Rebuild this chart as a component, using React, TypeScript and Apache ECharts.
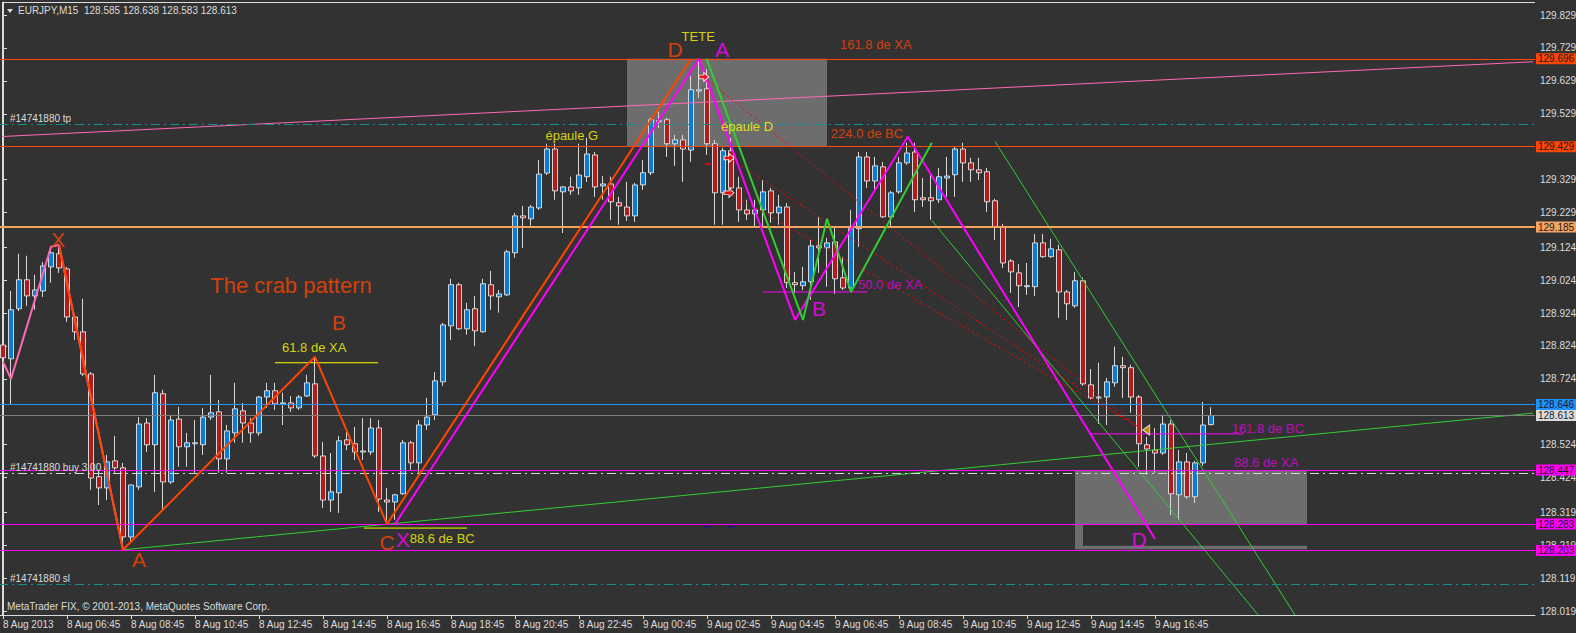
import React, { useEffect, useRef } from "react";
import * as echarts from "echarts";

const FONT = '"Liberation Sans", Arial, sans-serif';

// x axis tick labels (one every 8 bars, starting at bar 0)
const xTickLabels = [
  "8 Aug 2013", "8 Aug 06:45", "8 Aug 08:45", "8 Aug 10:45", "8 Aug 12:45", "8 Aug 14:45",
  "8 Aug 16:45", "8 Aug 18:45", "8 Aug 20:45", "8 Aug 22:45", "9 Aug 00:45", "9 Aug 02:45",
  "9 Aug 04:45", "9 Aug 06:45", "9 Aug 08:45", "9 Aug 10:45", "9 Aug 12:45", "9 Aug 14:45",
  "9 Aug 16:45",
];

// price scale tick labels
const yTickValues = [
  129.829, 129.729, 129.629, 129.529, 129.429, 129.329, 129.229, 129.124, 129.024, 128.924,
  128.824, 128.724, 128.524, 128.424, 128.319, 128.219, 128.119, 128.019,
];

// EURJPY M15 candles from 8 Aug 04:45 — [open, close, low, high]
const candles = [
  [128.827, 128.788, 128.773, 128.888], [128.785, 128.934, 128.645, 128.991], [128.937, 129.025, 128.930, 129.104],
  [129.025, 128.976, 128.946, 129.098], [128.976, 128.994, 128.934, 129.040], [128.991, 129.067, 128.973, 129.079],
  [129.064, 129.107, 129.016, 129.125], [129.104, 129.061, 129.046, 129.131], [129.058, 128.912, 128.897, 129.064],
  [128.912, 128.867, 128.842, 128.921], [128.867, 128.739, 128.733, 128.967], [128.739, 128.423, 128.387, 128.745],
  [128.427, 128.393, 128.341, 128.448], [128.393, 128.472, 128.356, 128.493], [128.475, 128.454, 128.439, 128.551],
  [128.454, 128.244, 128.208, 128.469], [128.244, 128.402, 128.232, 128.402], [128.396, 128.587, 128.387, 128.608],
  [128.590, 128.524, 128.502, 128.605], [128.524, 128.682, 128.381, 128.736], [128.679, 128.411, 128.326, 128.691],
  [128.411, 128.599, 128.405, 128.615], [128.602, 128.518, 128.457, 128.639], [128.518, 128.530, 128.457, 128.560],
  [128.527, 128.530, 128.439, 128.599], [128.524, 128.608, 128.493, 128.636], [128.608, 128.621, 128.599, 128.736],
  [128.624, 128.481, 128.439, 128.660], [128.481, 128.566, 128.439, 128.584], [128.560, 128.633, 128.530, 128.712],
  [128.627, 128.590, 128.530, 128.651], [128.590, 128.560, 128.530, 128.605], [128.560, 128.669, 128.551, 128.672],
  [128.669, 128.688, 128.636, 128.712], [128.688, 128.648, 128.630, 128.712], [128.648, 128.651, 128.584, 128.682],
  [128.651, 128.636, 128.624, 128.672], [128.636, 128.669, 128.630, 128.675], [128.672, 128.712, 128.669, 128.736],
  [128.709, 128.490, 128.484, 128.791], [128.490, 128.356, 128.332, 128.533], [128.356, 128.381, 128.320, 128.499],
  [128.378, 128.536, 128.317, 128.551], [128.539, 128.524, 128.508, 128.563], [128.527, 128.502, 128.478, 128.578],
  [128.502, 128.505, 128.478, 128.605], [128.502, 128.575, 128.493, 128.605], [128.575, 128.359, 128.320, 128.599],
  [128.356, 128.350, 128.287, 128.393], [128.350, 128.372, 128.296, 128.375], [128.375, 128.530, 128.372, 128.539],
  [128.530, 128.469, 128.448, 128.536], [128.469, 128.584, 128.439, 128.599], [128.584, 128.608, 128.569, 128.666],
  [128.615, 128.718, 128.599, 128.745], [128.715, 128.888, 128.703, 128.894], [128.885, 129.010, 128.842, 129.028],
  [129.010, 128.876, 128.873, 129.016], [128.876, 128.934, 128.858, 128.955], [128.937, 128.870, 128.824, 128.976],
  [128.867, 129.013, 128.864, 129.028], [129.010, 128.976, 128.934, 129.052], [128.973, 128.982, 128.925, 128.994],
  [128.979, 129.110, 128.976, 129.116], [129.107, 129.219, 129.092, 129.228], [129.219, 129.213, 129.122, 129.249],
  [129.210, 129.246, 129.189, 129.252], [129.243, 129.346, 129.237, 129.389], [129.349, 129.422, 129.343, 129.438],
  [129.422, 129.295, 129.268, 129.438], [129.292, 129.307, 129.167, 129.310], [129.307, 129.295, 129.283, 129.338],
  [129.304, 129.343, 129.283, 129.438], [129.338, 129.407, 129.322, 129.456], [129.404, 129.307, 129.277, 129.413],
  [129.310, 129.316, 129.268, 129.340], [129.316, 129.262, 129.207, 129.338], [129.259, 129.249, 129.192, 129.277],
  [129.246, 129.219, 129.204, 129.322], [129.219, 129.313, 129.201, 129.319], [129.313, 129.350, 129.298, 129.389],
  [129.350, 129.511, 129.343, 129.517], [129.508, 129.505, 129.486, 129.535], [129.511, 129.438, 129.398, 129.517],
  [129.438, 129.450, 129.371, 129.465], [129.450, 129.422, 129.322, 129.465], [129.419, 129.602, 129.383, 129.644],
  [129.598, 129.602, 129.577, 129.696], [129.605, 129.438, 129.404, 129.665], [129.438, 129.289, 129.192, 129.450],
  [129.289, 129.417, 129.192, 129.426], [129.417, 129.304, 129.283, 129.456], [129.304, 129.237, 129.201, 129.338],
  [129.237, 129.225, 129.207, 129.268], [129.225, 129.237, 129.183, 129.268], [129.237, 129.292, 129.186, 129.328],
  [129.295, 129.228, 129.198, 129.304], [129.228, 129.246, 129.192, 129.283], [129.246, 129.016, 129.000, 129.258],
  [129.016, 129.010, 128.985, 129.049], [129.007, 129.019, 128.994, 129.064], [129.019, 129.128, 128.964, 129.146],
  [129.128, 129.122, 129.046, 129.216], [129.122, 129.137, 129.004, 129.152], [129.140, 129.028, 128.982, 129.186],
  [129.031, 129.000, 128.994, 129.095], [129.000, 129.180, 128.988, 129.237], [129.180, 129.398, 129.125, 129.413],
  [129.398, 129.325, 129.304, 129.413], [129.325, 129.371, 129.298, 129.398], [129.368, 129.216, 129.213, 129.383],
  [129.216, 129.289, 129.186, 129.295], [129.292, 129.380, 129.286, 129.398], [129.380, 129.410, 129.374, 129.441],
  [129.413, 129.268, 129.231, 129.441], [129.274, 129.268, 129.246, 129.334], [129.274, 129.265, 129.207, 129.344],
  [129.268, 129.338, 129.258, 129.365], [129.334, 129.340, 129.277, 129.398], [129.344, 129.422, 129.277, 129.429],
  [129.422, 129.380, 129.322, 129.441], [129.380, 129.359, 129.322, 129.395], [129.359, 129.350, 129.328, 129.395],
  [129.353, 129.262, 129.231, 129.365], [129.265, 129.186, 129.146, 129.271], [129.186, 129.076, 129.061, 129.195],
  [129.082, 129.049, 128.985, 129.088], [129.046, 129.007, 128.942, 129.073], [129.004, 129.007, 128.979, 129.076],
  [129.004, 129.137, 128.976, 129.164], [129.137, 129.095, 129.092, 129.164], [129.095, 129.119, 129.092, 129.149],
  [129.116, 128.988, 128.909, 129.131], [128.988, 128.952, 128.903, 128.994], [128.946, 129.022, 128.940, 129.049],
  [129.022, 128.709, 128.703, 129.031], [128.706, 128.666, 128.660, 128.754], [128.666, 128.669, 128.587, 128.773],
  [128.669, 128.715, 128.584, 128.727], [128.712, 128.764, 128.700, 128.822], [128.764, 128.758, 128.666, 128.791],
  [128.758, 128.669, 128.621, 128.767], [128.669, 128.527, 128.457, 128.675], [128.524, 128.511, 128.433, 128.548],
  [128.508, 128.499, 128.439, 128.575], [128.499, 128.587, 128.493, 128.615], [128.587, 128.375, 128.311, 128.599],
  [128.372, 128.472, 128.296, 128.508], [128.472, 128.366, 128.360, 128.499], [128.366, 128.469, 128.347, 128.475],
  [128.469, 128.584, 128.460, 128.654], [128.585, 128.613, 128.583, 128.638],
];

const slotCount = 192; // bars + empty space on the right

// horizontal price levels
const orangeLevels = [129.696, 129.429];
const sandLevels = [129.185];
const askLevel = 128.646;
const bidLevel = 128.613;
const magentaLevels = [128.447, 128.283, 128.203];
const orderLevels = [
  { text: "#14741880 tp", value: 129.497, kind: "teal" },
  { text: "#14741880 buy 3.00", value: 128.437, kind: "white" },
  { text: "#14741880 sl", value: 128.1, kind: "teal" },
];

// drawn pattern lines: [bar index, price]
const pinkZigzag = [[0, 128.776], [1, 128.724], [6, 129.125], [7, 129.131], [15, 128.205]];
const crabOrange = [[7, 129.131], [15, 128.205], [39, 128.791], [48, 128.283], [86, 129.696]];
const crabMagenta = [[49, 128.283], [87, 129.696], [99, 128.903], [113.1, 129.459], [144, 128.238]];
const greenZigzag = [[87.96, 129.696], [100, 128.903], [103, 129.21], [106, 128.988], [116.1, 129.441]];
const greenTrend = [[15, 128.205], [191.25, 128.62]];
const pinkTrend = [[-0.1, 129.46], [191.25, 129.687]];
const greenChannels = [
  [[124, 129.445], [161.5, 128.007]],
  [[116.1, 129.205], [156.9, 128.007]],
];
const tradeLinks = [
  [[87.6, 129.641], [141.75, 128.581]],
  [[90.75, 129.395], [141.75, 128.581]],
  [[90.75, 129.289], [141.75, 128.581]],
];
const yellowFibs = [
  [[34, 128.773], [46.9, 128.773]],
  [[45.1, 128.271], [58, 128.271]],
];
const magentaFibs = [
  [[95, 128.988], [108, 128.988]],
  [[135.9, 128.557], [155, 128.557]],
];

// boxes: [[x0, y0], [x1, y1]]
const grayZones = [
  [[78, 129.696], [103, 129.429]],
  [[134, 128.447], [163, 128.283]],
  [[134, 128.283], [135, 128.207]],
  [[134, 128.217], [163, 128.207]],
];

// trade markers
const openArrows = [[87.6, 129.641], [90.75, 129.395], [90.75, 129.289]];
const closeArrows = [[142.9, 128.569]];
const stopMarks = [[88, 128.275], [91, 128.275]];
const redTicks = [[88.1, 129.377]];

// annotations: [bar index, price, text]
const orangeLetters = [[6.9, 129.148, "X"], [17, 128.177, "A"], [42, 128.894, "B"], [48, 128.226, "C"], [84, 129.723, "D"]];
const magentaLetters = [[50, 128.235, "X"], [89.9, 129.723, "A"], [102, 128.937, "B"], [142, 128.237, "D"]];
const yellowNotes = [
  [38.9, 128.818, "61.8 de XA"], [54.9, 128.238, "88.6 de BC"], [86.9, 129.763, "TETE"],
  [71.1, 129.462, "épaule G"], [93, 129.489, "épaule D"],
];
const orangeNotes = [[109.1, 129.738, "161.8 de XA"], [108, 129.47, "224.0 de BC"]];
const magentaNotes = [[110.9, 129.012, "50.0 de XA"], [158.1, 128.574, "161.8 de BC"], [157.9, 128.47, "88.6 de XA"]];
const headlineNotes = [[36, 129.009, "The crab pattern"]];

const categories = Array.from({ length: slotCount }, (_, i) => {
  const m = 4 * 60 + 45 + 15 * i;
  const d = 8 + Math.floor(m / 1440);
  const mm = m % 1440;
  return `${d} Aug ${String(Math.floor(mm / 60)).padStart(2, "0")}:${String(mm % 60).padStart(2, "0")}`;
});

const TXT = "#DCDCDC";

function lineSeries(data: number[][], color: string, width: number, type: any = "solid", z = 4) {
  return {
    type: "line",
    xAxisIndex: 1,
    yAxisIndex: 0,
    data,
    symbol: "none",
    silent: true,
    z,
    lineStyle: { color, width, type },
  };
}

function textSeries(items: any[], color: string, size: number) {
  return {
    type: "scatter",
    xAxisIndex: 1,
    yAxisIndex: 0,
    symbolSize: 1,
    silent: true,
    z: 7,
    itemStyle: { color: "rgba(0,0,0,0)" },
    data: items.map(([i, p, t]) => ({ value: [i, p], name: t })),
    label: {
      show: true,
      position: "inside",
      formatter: "{b}",
      color,
      fontSize: size,
      fontFamily: FONT,
      align: "center",
      verticalAlign: "middle",
    },
  };
}

function levelItem(value: number, color: string, width: number, bg: string) {
  return {
    yAxis: value,
    lineStyle: { color, width, type: "solid" },
    label: {
      show: true,
      position: "end",
      distance: 1,
      formatter: () => value.toFixed(3),
      backgroundColor: bg,
      color: "#1a1a1a",
      padding: [1, 2, 0, 2],
      fontSize: 10,
      fontFamily: FONT,
    },
  };
}

export default function App() {
  const ref = useRef<HTMLDivElement>(null);
  useEffect(() => {
    if (!ref.current) return;
    const chart = echarts.init(ref.current, null, { renderer: "svg" });

    const levelData: any[] = [
      ...orangeLevels.map((v) => levelItem(v, "#FF4500", 1, "#FF4500")),
      ...sandLevels.map((v) => levelItem(v, "#F4A460", 2, "#F4A460")),
      levelItem(askLevel, "#1E90FF", 1, "#1E90FF"),
      levelItem(bidLevel, "#808080", 1, "#DCDCDC"),
      ...magentaLevels.map((v) => levelItem(v, "#FF00FF", 1, "#FF00FF")),
      ...orderLevels.map((o) => ({
        yAxis: o.value,
        lineStyle: { color: o.kind === "teal" ? "#109090" : "#D8D8D8", width: 1, type: [9, 4, 2, 4] },
        label: {
          show: true,
          position: "insideStartTop",
          distance: [11, 1],
          formatter: () => o.text,
          color: TXT,
          fontSize: 10,
          fontFamily: FONT,
        },
      })),
    ];

    const series: any[] = [
      {
        type: "line",
        xAxisIndex: 1,
        yAxisIndex: 0,
        data: [],
        z: 1,
        silent: true,
        markArea: {
          silent: true,
          itemStyle: { color: "#6D6D6D" },
          data: grayZones.map(([a, b]) => [
            { xAxis: a[0], yAxis: a[1] },
            { xAxis: b[0], yAxis: b[1] },
          ]),
        },
      },
      {
        type: "candlestick",
        xAxisIndex: 0,
        yAxisIndex: 0,
        z: 2,
        silent: true,
        barWidth: 5,
        data: candles,
        itemStyle: {
          color: "#0A7CD8",
          color0: "#B01C1C",
          borderColor: "#D8D8D8",
          borderColor0: "#D8D8D8",
          borderColorDoji: "#D8D8D8",
          borderWidth: 1,
          opacity: 1,
        },
      },
      {
        type: "line",
        xAxisIndex: 1,
        yAxisIndex: 0,
        data: [],
        z: 3,
        silent: true,
        markLine: {
          silent: true,
          symbol: ["none", "none"],
          precision: 3,
          data: levelData,
        },
      },
      lineSeries(pinkTrend, "#FF69B4", 1),
      lineSeries(greenTrend, "#32CD32", 1),
      ...greenChannels.map((d) => lineSeries(d, "#32CD32", 1)),
      ...tradeLinks.map((d) => lineSeries(d, "#FF0000", 1, [2, 3])),
      ...yellowFibs.map((d) => lineSeries(d, "#FFFF00", 1)),
      ...magentaFibs.map((d) => lineSeries(d, "#FF00FF", 1)),
      lineSeries(pinkZigzag, "#FF69B4", 2, "solid", 5),
      lineSeries(crabOrange, "#FF4500", 2, "solid", 5),
      lineSeries(crabMagenta, "#FF00FF", 2, "solid", 5),
      lineSeries(greenZigzag, "#32CD32", 2, "solid", 5),
      {
        type: "scatter",
        xAxisIndex: 1,
        yAxisIndex: 0,
        silent: true,
        z: 6,
        symbol: "path://M0,3 L5,3 L5,0 L10,5 L5,10 L5,7 L0,7 Z",
        symbolSize: [10, 9],
        itemStyle: { color: "#FF0000", borderColor: "#FFFFFF", borderWidth: 1 },
        data: openArrows,
      },
      {
        type: "scatter",
        xAxisIndex: 1,
        yAxisIndex: 0,
        silent: true,
        z: 6,
        symbol: "path://M10,0 L0,5 L10,10 Z",
        symbolSize: [7, 10],
        itemStyle: { color: "#E0A000", borderColor: "#FFFFFF", borderWidth: 1 },
        data: closeArrows,
      },
      {
        type: "scatter",
        xAxisIndex: 1,
        yAxisIndex: 0,
        silent: true,
        z: 6,
        symbol: "rect",
        symbolSize: [7, 1],
        itemStyle: { color: "#0000CD" },
        data: stopMarks,
      },
      {
        type: "scatter",
        xAxisIndex: 1,
        yAxisIndex: 0,
        silent: true,
        z: 6,
        symbol: "rect",
        symbolSize: [6, 2],
        itemStyle: { color: "#FF0000" },
        data: redTicks,
      },
      textSeries(orangeLetters, "#FF4500", 21),
      textSeries(magentaLetters, "#FF00FF", 21),
      textSeries(yellowNotes, "#FFFF00", 13),
      textSeries(orangeNotes, "#FF4500", 13),
      textSeries(magentaNotes, "#E000E0", 13),
      textSeries(headlineNotes, "#FF4500", 22),
    ];

    chart.setOption({
      animation: false,
      backgroundColor: "#323232",
      grid: { left: -1, top: 2, width: 1536, height: 613, outerBoundsMode: "none", containLabel: false },
      xAxis: [
        {
          type: "category",
          data: categories,
          boundaryGap: true,
          position: "bottom",
          axisLine: { show: true, lineStyle: { color: TXT, width: 1 } },
          axisTick: {
            show: true,
            alignWithLabel: true,
            length: 4,
            interval: (i: number) => i % 8 === 0 && i <= 144,
            lineStyle: { color: TXT },
          },
          axisLabel: {
            show: true,
            interval: (i: number) => i % 8 === 0 && i <= 144,
            formatter: (_v: string, i: number) => xTickLabels[i / 8] ?? "",
            align: "left",
            margin: 4,
            color: TXT,
            fontSize: 10,
            fontFamily: FONT,
          },
          splitLine: { show: false },
        },
        { type: "value", min: -0.5, max: 191.5, show: false },
      ],
      yAxis: {
        type: "value",
        position: "right",
        min: 128.007,
        max: 129.8685,
        scale: true,
        splitLine: { show: false },
        axisLine: { show: true, lineStyle: { color: TXT, width: 1 } },
        axisTick: { show: true, length: 4, customValues: yTickValues, lineStyle: { color: TXT } },
        axisLabel: {
          show: true,
          customValues: yTickValues,
          formatter: (v: number) => v.toFixed(3),
          margin: 5,
          color: TXT,
          fontSize: 10,
          fontFamily: FONT,
        },
      },
      graphic: [
        { type: "line", silent: true, shape: { x1: 2.5, y1: 2, x2: 2.5, y2: 615 }, style: { stroke: TXT, lineWidth: 1 } },
        { type: "line", silent: true, shape: { x1: 2, y1: 2.5, x2: 1535, y2: 2.5 }, style: { stroke: TXT, lineWidth: 1 } },
        { type: "polygon", silent: true, shape: { points: [[7, 9], [13, 9], [10, 13]] }, style: { fill: TXT } },
        {
          type: "text",
          silent: true,
          left: 18,
          top: 5,
          style: { text: "EURJPY,M15  128.585 128.638 128.583 128.613", fill: TXT, font: `10px ${FONT}` },
        },
        {
          type: "text",
          silent: true,
          left: 7,
          top: 601,
          style: { text: "MetaTrader FIX, © 2001-2013, MetaQuotes Software Corp.", fill: TXT, font: `10px ${FONT}` },
        },
      ],
      series,
    });
    return () => chart.dispose();
  }, []);
  return <div ref={ref} style={{ position: "fixed", left: 0, top: 0, width: 1576, height: 633 }} />;
}
